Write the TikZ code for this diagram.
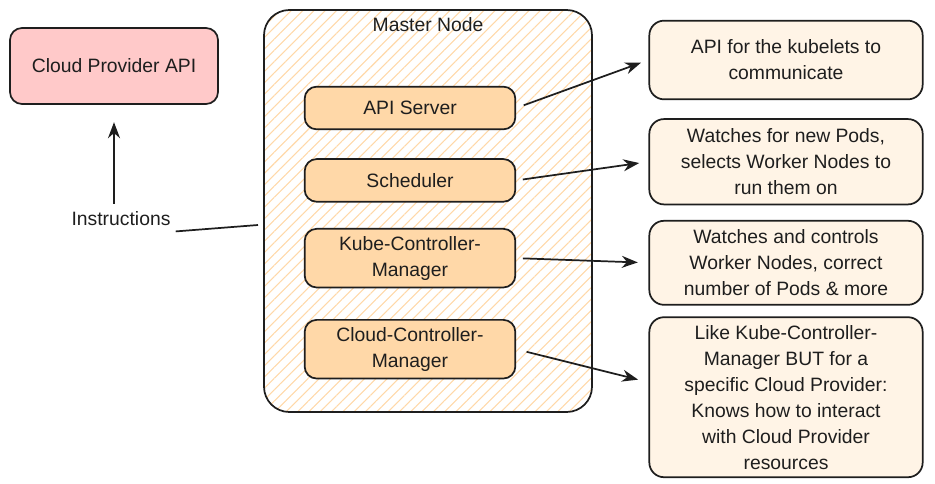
\documentclass[tikz,border=0pt]{standalone}
\usepackage{fontspec}
\setmainfont{Liberation Sans}
\usetikzlibrary{arrows.meta,positioning,patterns.meta,calc}
\definecolor{inkdark}{HTML}{1E1E1E}
\definecolor{cloudpink}{HTML}{FFC9C9}
\definecolor{compfill}{HTML}{FFD8A8}
\definecolor{descfill}{HTML}{FFF4E6}
\definecolor{hatchorange}{HTML}{FFD8A8}

\begin{document}
\begin{tikzpicture}[
      x=0.75pt,y=-0.75pt,
      txt/.style={font=\fontsize{14.5}{19.5}\selectfont},
      box/.style={rectangle,rounded corners=9pt,draw=inkdark,line width=1.3pt,
        align=center,txt,inner sep=2pt},
      component/.style={box,fill=compfill,minimum width=158pt,minimum height=32pt},
      desc/.style={box,fill=descfill,rounded corners=11pt,minimum width=205pt},
      >={Stealth[length=12pt,width=9pt]},color=inkdark,line width=1.3pt
    ]
    \useasboundingbox (0,0) rectangle (935,483);

    % left side
    \node[box,fill=cloudpink,minimum width=156pt,minimum height=57pt] (cloud) at (114,66) {Cloud Provider API};
    \node[txt] (instr) at (121,219) {Instructions};
    \coordinate (instrend) at (258,225);

    % master node with its components
    \node[rectangle,rounded corners=19pt,draw=inkdark,line width=1.3pt,
      pattern={Lines[angle=45,distance=6pt,line width=0.8pt]},pattern color=hatchorange,
      minimum width=246pt,minimum height=301.5pt] (master) at (428,211) {};
    \node[txt,below=2pt of master.north] (mastertitle) {Master Node};
    \node[component] (apiserver) at (410,108) {API Server};
    \node[component,below=21pt of apiserver] (scheduler) {Scheduler};
    \node[component,minimum height=44pt,below=19pt of scheduler] (kcm) {Kube-Controller-\\Manager};
    \node[component,minimum height=44pt,below=23pt of kcm] (ccm) {Cloud-Controller-\\Manager};

    % descriptions
    \node[desc,minimum height=59pt] (descapi) at (786,60) {API for the kubelets to\\communicate};
    \node[desc,minimum height=64pt,below=13.5pt of descapi] (descsched) {Watches for new Pods,\\selects Worker Nodes to\\run them on};
    \node[desc,minimum height=63pt,below=11pt of descsched] (desckcm) {Watches and controls\\Worker Nodes, correct\\number of Pods \& more};
    \node[desc,minimum height=120pt,below=8pt of desckcm] (descccm) {Like Kube-Controller-\\Manager BUT for a\\specific Cloud Provider:\\Knows how to interact\\with Cloud Provider\\resources};

    \draw (instr.south east) -- (instrend);
    \draw[->,shorten <=2pt,shorten >=13pt] (instr.north -| cloud.south) -- (cloud.south);

    \draw[->,shorten <=6pt,shorten >=6pt] (apiserver.east) -- (descapi.west);
    \draw[->,shorten <=5pt,shorten >=7pt] (scheduler.east) -- (descsched.west);
    \draw[->,shorten <=5pt,shorten >=8pt] (kcm.east) -- (desckcm.west);
    \draw[->,shorten <=8pt,shorten >=8pt] (ccm.east) -- ($(descccm.west)+(0,-15)$);
  \end{tikzpicture}
\end{document}
